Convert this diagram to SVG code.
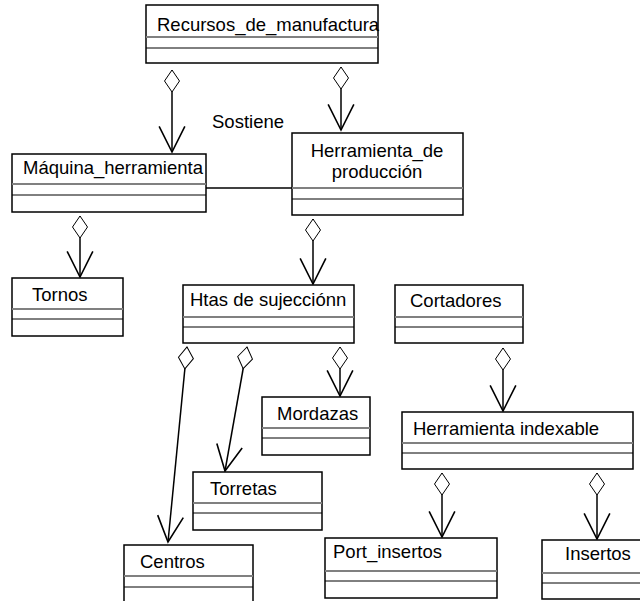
<svg xmlns="http://www.w3.org/2000/svg" width="640" height="601" viewBox="0 0 640 601">
  <style>
    .box { fill: #ffffff; stroke: #000000; stroke-width: 1.5; }
    .div1 { stroke: #808080; stroke-width: 2; }
    .div2 { stroke: #000000; stroke-width: 1; }
    .lbl { font-family: "Liberation Sans", Arial, sans-serif; font-size: 18.5px; fill: #000000; }
    .agg { fill: none; stroke: #000000; stroke-width: 1.5; marker-start: url(#diamond); marker-end: url(#open); }
    .assoc { stroke: #000000; stroke-width: 1.5; }
  </style>
  <defs>
    <!-- hollow aggregation diamond at the whole's end -->
    <marker id="diamond" markerUnits="userSpaceOnUse" markerWidth="30" markerHeight="20" viewBox="-2 -10 26 20" refX="0" refY="0" orient="auto" overflow="visible">
      <path d="M0,0 L11,-7.5 L22,0 L11,7.5 Z" fill="#ffffff" stroke="#000000" stroke-width="1"/>
    </marker>
    <!-- open navigability arrowhead -->
    <marker id="open" markerUnits="userSpaceOnUse" markerWidth="30" markerHeight="30" viewBox="-26 -14 28 28" refX="0" refY="0" orient="auto" overflow="visible">
      <path d="M-24,-12 L0,0 L-24,12" fill="none" stroke="#000000" stroke-width="1.5"/>
    </marker>
  </defs>

  <g id="connectors">
    <line class="assoc" x1="206" y1="188" x2="292" y2="188"/>
    <line class="agg" x1="172" y1="70" x2="172" y2="152"/>
    <line class="agg" x1="341" y1="67" x2="341" y2="130"/>
    <line class="agg" x1="80" y1="216" x2="80" y2="277"/>
    <line class="agg" x1="313" y1="219" x2="313" y2="284"/>
    <line class="agg" x1="187" y1="347" x2="168" y2="542"/>
    <line class="agg" x1="247" y1="347" x2="225" y2="471"/>
    <line class="agg" x1="340" y1="347" x2="340" y2="396"/>
    <line class="agg" x1="503" y1="348" x2="503" y2="411"/>
    <line class="agg" x1="442" y1="473" x2="442" y2="537"/>
    <line class="agg" x1="597" y1="473" x2="597" y2="539"/>
    <text class="lbl" x="212" y="128">Sostiene</text>
  </g>

  <g id="recursos">
    <rect class="box" x="146" y="5" width="232" height="58"/>
    <line class="div1" x1="146" y1="37" x2="378" y2="37"/>
    <line class="div2" x1="146" y1="48" x2="378" y2="48"/>
    <text class="lbl" x="157" y="31">Recursos_de_manufactura</text>
  </g>

  <g id="maquina">
    <rect class="box" x="12" y="154" width="194" height="58"/>
    <line class="div1" x1="12" y1="184" x2="206" y2="184"/>
    <line class="div2" x1="12" y1="195" x2="206" y2="195"/>
    <text class="lbl" x="23" y="174">Máquina_herramienta</text>
  </g>

  <g id="herramienta-produccion">
    <rect class="box" x="292" y="133" width="171" height="82"/>
    <line class="div1" x1="292" y1="188" x2="463" y2="188"/>
    <line class="div2" x1="292" y1="199" x2="463" y2="199"/>
    <text class="lbl" x="377" y="157" text-anchor="middle">Herramienta_de</text>
    <text class="lbl" x="377" y="178" text-anchor="middle">producción</text>
  </g>

  <g id="tornos">
    <rect class="box" x="12" y="278" width="111" height="58"/>
    <line class="div1" x1="12" y1="309" x2="123" y2="309"/>
    <line class="div2" x1="12" y1="319" x2="123" y2="319"/>
    <text class="lbl" x="32" y="301">Tornos</text>
  </g>

  <g id="htas-sujeccion">
    <rect class="box" x="183" y="285" width="171" height="58"/>
    <line class="div1" x1="183" y1="317" x2="354" y2="317"/>
    <line class="div2" x1="183" y1="327" x2="354" y2="327"/>
    <text class="lbl" x="190" y="306">Htas de sujecciónn</text>
  </g>

  <g id="cortadores">
    <rect class="box" x="395" y="285" width="128" height="58"/>
    <line class="div1" x1="395" y1="317" x2="523" y2="317"/>
    <line class="div2" x1="395" y1="327" x2="523" y2="327"/>
    <text class="lbl" x="410" y="307">Cortadores</text>
  </g>

  <g id="mordazas">
    <rect class="box" x="262" y="397" width="108" height="58"/>
    <line class="div1" x1="262" y1="428" x2="370" y2="428"/>
    <line class="div2" x1="262" y1="438" x2="370" y2="438"/>
    <text class="lbl" x="277" y="420">Mordazas</text>
  </g>

  <g id="herramienta-indexable">
    <rect class="box" x="402" y="412" width="231" height="57"/>
    <line class="div1" x1="402" y1="443" x2="633" y2="443"/>
    <line class="div2" x1="402" y1="453" x2="633" y2="453"/>
    <text class="lbl" x="413" y="435">Herramienta indexable</text>
  </g>

  <g id="torretas">
    <rect class="box" x="193" y="472" width="129" height="58"/>
    <line class="div1" x1="193" y1="503" x2="322" y2="503"/>
    <line class="div2" x1="193" y1="513" x2="322" y2="513"/>
    <text class="lbl" x="210" y="495">Torretas</text>
  </g>

  <g id="centros">
    <rect class="box" x="124" y="545" width="129" height="65"/>
    <line class="div1" x1="124" y1="576" x2="253" y2="576"/>
    <line class="div2" x1="124" y1="587" x2="253" y2="587"/>
    <text class="lbl" x="140" y="568">Centros</text>
  </g>

  <g id="port-insertos">
    <rect class="box" x="325" y="538" width="172" height="60"/>
    <line class="div1" x1="325" y1="571" x2="497" y2="571"/>
    <line class="div2" x1="325" y1="581" x2="497" y2="581"/>
    <text class="lbl" x="333" y="558">Port_insertos</text>
  </g>

  <g id="insertos">
    <rect class="box" x="542" y="540" width="108" height="59"/>
    <line class="div1" x1="542" y1="573" x2="650" y2="573"/>
    <line class="div2" x1="542" y1="583" x2="650" y2="583"/>
    <text class="lbl" x="565" y="560">Insertos</text>
  </g>
</svg>
